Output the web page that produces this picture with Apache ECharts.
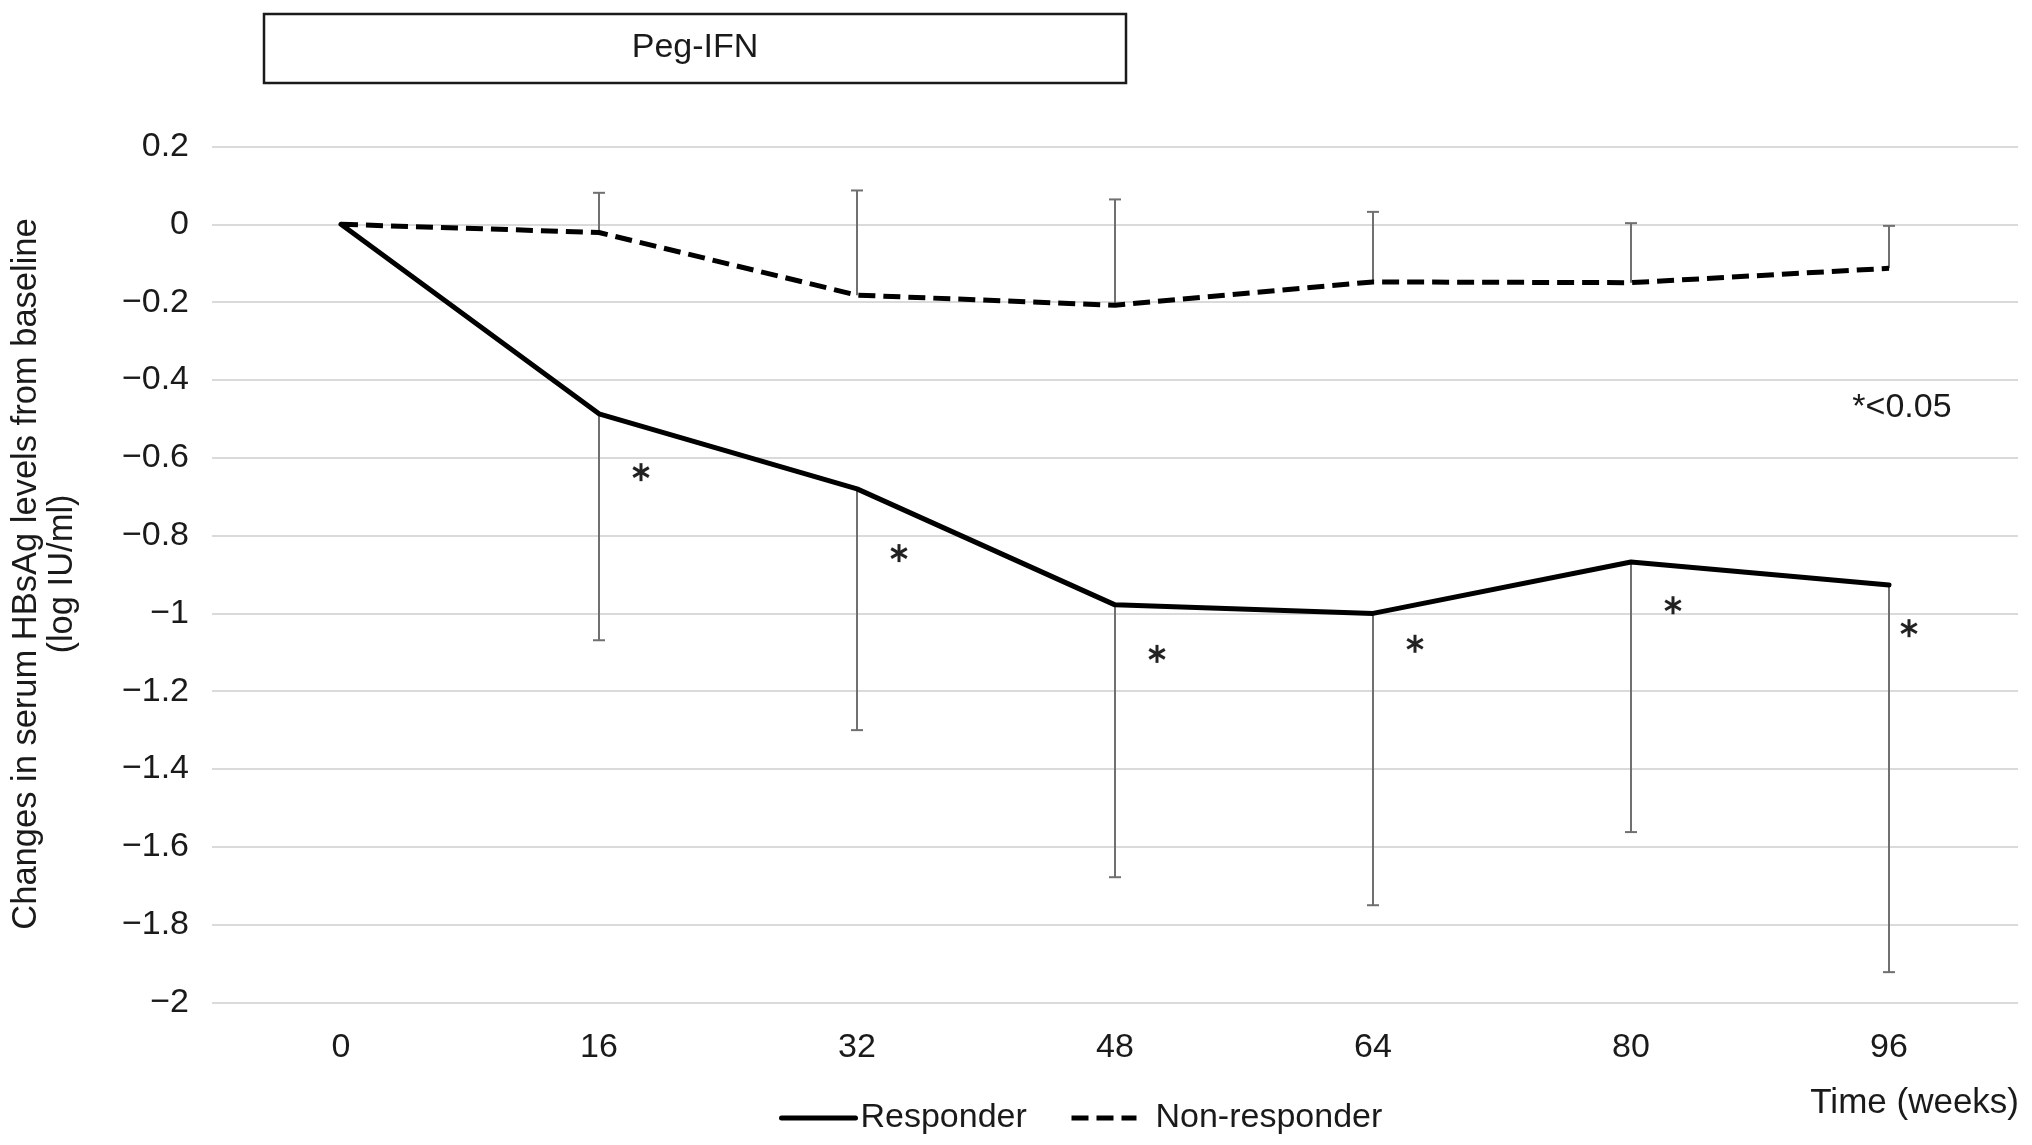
<!DOCTYPE html>
<html>
<head>
<meta charset="utf-8">
<script src="https://cdn.jsdelivr.net/npm/echarts@6/dist/echarts.min.js"></script>
<style>
html,body{margin:0;padding:0;background:#fff;}
#chart{width:2032px;height:1145px;}
</style>
</head>
<body>
<div id="chart"></div>
<script>
const weeks = ['0', '16', '32', '48', '64', '80', '96'];
const responder = [0, -0.487, -0.68, -0.978, -1.0, -0.868, -0.927];
const responderLow = [null, -1.069, -1.3, -1.678, -1.75, -1.562, -1.922];
const nonResponder = [0, -0.021, -0.182, -0.208, -0.148, -0.15, -0.113];
const nonResponderHigh = [null, 0.081, 0.087, 0.064, 0.032, 0.003, -0.004];
const starY = [null, -0.637, -0.845, -1.104, -1.078, -0.979, -1.038];
const yTicks = { min: -2, max: 0.2, interval: 0.2 };
const seriesNames = ['Responder', 'Non-responder'];
const treatmentLabel = 'Peg-IFN';
const yTitle = 'Changes in serum HBsAg levels from baseline\n(log IU/ml)';
const xTitle = 'Time (weeks)';
const sigNote = '*<0.05';

const FONT = 'Liberation Sans, Arial, Helvetica, sans-serif';
const TXT = '#1a1a1a';

function errData(mean, end) {
  const out = [];
  mean.forEach((m, i) => { if (end[i] !== null) out.push([i, m, end[i]]); });
  return out;
}
function errRender(params, api) {
  const x = api.value(0);
  const p1 = api.coord([x, api.value(1)]);
  const p2 = api.coord([x, api.value(2)]);
  const cw = 6;
  const st = { stroke: '#707070', lineWidth: 2 };
  return {
    type: 'group',
    children: [
      { type: 'line', shape: { x1: p1[0], y1: p1[1], x2: p2[0], y2: p2[1] }, style: st },
      { type: 'line', shape: { x1: p2[0] - cw, y1: p2[1], x2: p2[0] + cw, y2: p2[1] }, style: st }
    ]
  };
}
const starData = [];
starY.forEach((v, i) => { if (v !== null) starData.push([i, v]); });

const chart = echarts.init(document.getElementById('chart'));
chart.setOption({
  animation: false,
  backgroundColor: '#fff',
  grid: { left: 212, right: 14, top: 146.5, bottom: 142.5 },
  xAxis: {
    type: 'category',
    data: weeks,
    boundaryGap: true,
    axisLine: { show: false },
    axisTick: { show: false },
    axisLabel: { fontFamily: FONT, fontSize: 34, color: TXT, margin: 28 }
  },
  yAxis: {
    type: 'value',
    min: yTicks.min,
    max: yTicks.max,
    interval: yTicks.interval,
    axisLine: { show: false },
    axisTick: { show: false },
    splitLine: { lineStyle: { color: '#dadada', width: 2 } },
    axisLabel: {
      fontFamily: FONT, fontSize: 34, color: TXT, margin: 23,
      formatter: v => {
        const r = Math.round(v * 10) / 10;
        if (r === 0) return '0';
        return (r < 0 ? '\u2212' : '') + String(Math.abs(r));
      }
    }
  },
  legend: [
    {
      data: [seriesNames[0]], left: 774, top: 1096, itemWidth: 74, itemHeight: 14, itemGap: 0,
      itemStyle: { opacity: 0 },
      lineStyle: { width: 5 },
      textStyle: { fontFamily: FONT, fontSize: 34, color: TXT, padding: [0, 0, 0, 0] }
    },
    {
      data: [seriesNames[1]], left: 1064, top: 1096, itemWidth: 65, itemHeight: 14, itemGap: 0,
      itemStyle: { opacity: 0 },
      lineStyle: { width: 5 },
      textStyle: { fontFamily: FONT, fontSize: 34, color: TXT, padding: [0, 0, 0, 14] }
    }
  ],
  graphic: [
    {
      type: 'rect', z: 10,
      shape: { x: 264, y: 14, width: 862, height: 69 },
      style: { fill: '#fff', stroke: '#1a1a1a', lineWidth: 2.5 }
    },
    {
      type: 'text', z: 11, x: 695, y: 48,
      style: { text: treatmentLabel, font: '34px ' + FONT, fill: TXT, textAlign: 'center', textVerticalAlign: 'middle' }
    },
    {
      type: 'text', x: 44, y: 574, rotation: Math.PI / 2,
      style: { text: yTitle, font: '34.5px ' + FONT, fill: TXT, textAlign: 'center', textVerticalAlign: 'middle', lineHeight: 36 }
    },
    {
      type: 'text', x: 2019, y: 1103,
      style: { text: xTitle, font: '35px ' + FONT, fill: TXT, textAlign: 'right', textVerticalAlign: 'middle' }
    },
    {
      type: 'text', x: 1902, y: 408,
      style: { text: sigNote, font: '34px ' + FONT, fill: TXT, textAlign: 'center', textVerticalAlign: 'middle' }
    }
  ],
  series: [
    {
      name: 'errR', type: 'custom', z: 1, silent: true,
      data: errData(responder, responderLow),
      encode: { x: 0, y: [1, 2] },
      renderItem: errRender
    },
    {
      name: 'errN', type: 'custom', z: 1, silent: true,
      data: errData(nonResponder, nonResponderHigh),
      encode: { x: 0, y: [1, 2] },
      renderItem: errRender
    },
    {
      name: seriesNames[0], type: 'line', z: 3,
      data: responder, symbol: 'none',
      itemStyle: { color: '#000' },
      lineStyle: { color: '#000', width: 5, cap: 'round', join: 'round' }
    },
    {
      name: seriesNames[1], type: 'line', z: 3,
      data: nonResponder, symbol: 'none',
      itemStyle: { color: '#000' },
      lineStyle: { color: '#000', width: 5, type: [17, 8] }
    },
    {
      name: 'stars', type: 'custom', z: 4, silent: true,
      data: starData,
      encode: { x: 0, y: 1 },
      renderItem: (params, api) => {
        const idx = api.value(0);
        const c = api.coord([idx, api.value(1)]);
        const dx = idx === 6 ? 20 : 42;
        const cx = c[0] + dx, cy = c[1];
        const r = 9;
        const st = { stroke: '#222', lineWidth: 3 };
        const kids = [];
        [90, 30, -30].forEach(a => {
          const rad = a * Math.PI / 180;
          const ex = Math.cos(rad) * r, ey = Math.sin(rad) * r;
          kids.push({ type: 'line', shape: { x1: cx - ex, y1: cy - ey, x2: cx + ex, y2: cy + ey }, style: st });
        });
        return { type: 'group', children: kids };
      }
    }
  ]
});
</script>
</body>
</html>
